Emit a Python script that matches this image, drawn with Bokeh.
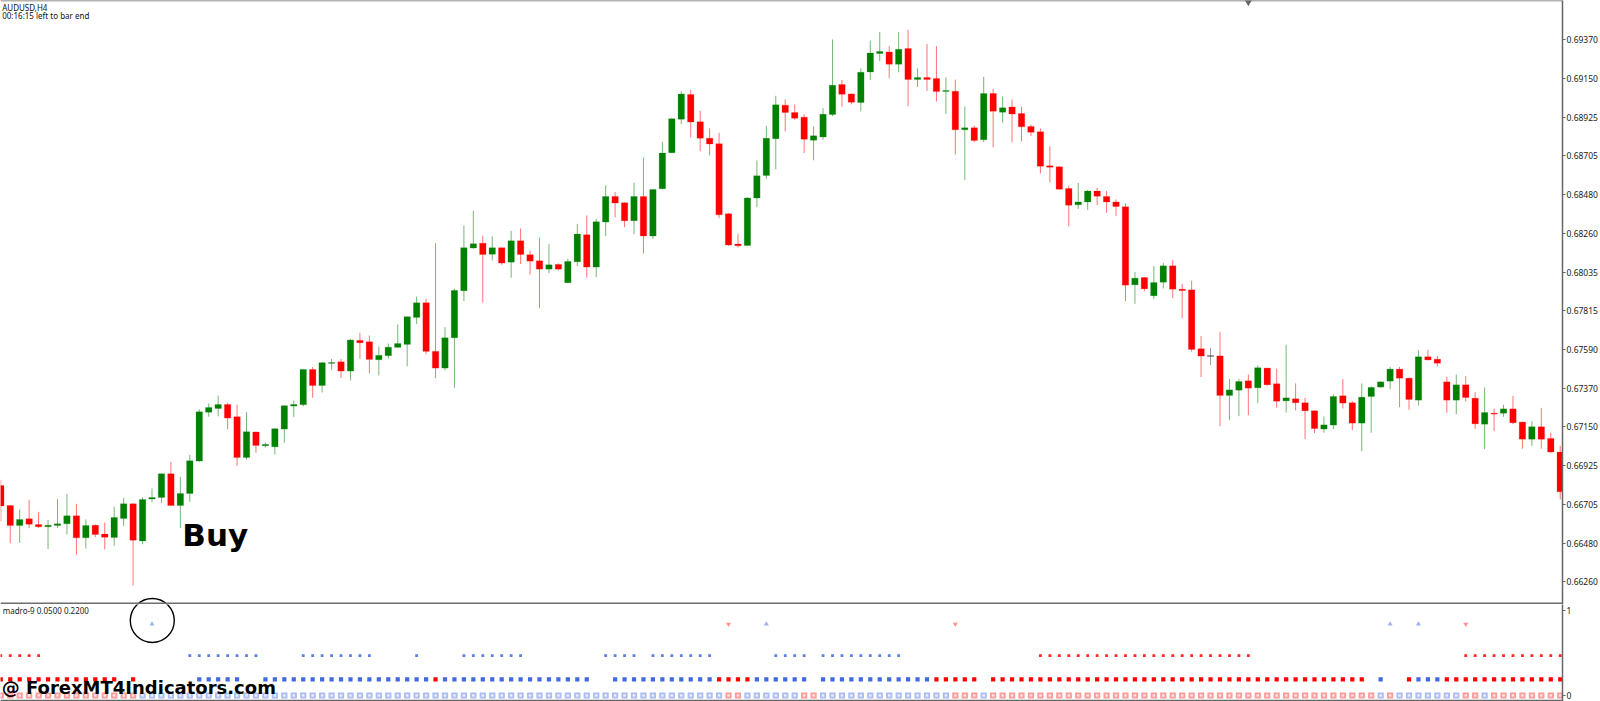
from bokeh.embed import file_html
from bokeh.layouts import column
from bokeh.models import ColumnDataSource, FixedTicker, Label, NumeralTickFormatter, Range1d, Span
from bokeh.plotting import figure
from bokeh.resources import INLINE

# Prices, in points (1 point = 0.00001)
POINT = 0.00001

opens = [
    66812, 66697, 66582, 66621, 66588, 66575, 66582, 66592, 66638, 66512,
    66584, 66533, 66514, 66623, 66707, 66494, 66734, 66743, 66879, 66697,
    66766, 66952, 67232, 67254, 67277, 67207, 66973, 67119, 67040, 67034,
    67136, 67268, 67276, 67478, 67386, 67513, 67522, 67469, 67645, 67637,
    67534, 67557, 67605, 67622, 67777, 67861, 67582, 67486, 67660, 67930,
    68175, 68203, 68140, 68177, 68094, 68217, 68137, 68102, 68054, 68081,
    67976, 68096, 68251, 68066, 68324, 68471, 68435, 68332, 68471, 68244,
    68515, 68722, 68915, 69057, 68900, 68806, 68774, 68372, 68198, 68190,
    68462, 68592, 68802, 68995, 68953, 68926, 68794, 68813, 68942, 69114,
    69060, 69010, 69186, 69292, 69301, 69230, 69320, 69142, 69154, 69148,
    69074, 69075, 68854, 68865, 68796, 69062, 68955, 68984, 68947, 68873,
    68842, 68647, 68641, 68517, 68423, 68440, 68502, 68471, 68440, 68412,
    67964, 68006, 67901, 67979, 68073, 67939, 67935, 67597, 67558, 67556,
    67329, 67359, 67413, 67373, 67486, 67396, 67298, 67310, 67287, 67241,
    67136, 67159, 67327, 67287, 67170, 67323, 67377, 67411, 67480, 67428,
    67302, 67551, 67537, 67407, 67302, 67390, 67313, 67164, 67227, 67227,
    67252, 67176, 67078, 67149, 67082, 67004,
]
highs = [
    66845, 66697, 66674, 66730, 66661, 66615, 66734, 66764, 66707, 66617,
    66588, 66600, 66690, 66741, 66709, 66745, 66795, 66881, 66948, 66862,
    66988, 67249, 67283, 67329, 67287, 67276, 67233, 67122, 67059, 67140,
    67272, 67300, 67480, 67492, 67520, 67539, 67539, 67654, 67689, 67673,
    67610, 67627, 67737, 67781, 67897, 67884, 68203, 67721, 67941, 68305,
    68389, 68246, 68242, 68179, 68274, 68288, 68161, 68234, 68198, 68087,
    68114, 68314, 68362, 68343, 68536, 68496, 68437, 68550, 68693, 68513,
    68785, 68919, 69074, 69083, 68963, 68862, 68837, 68376, 68257, 68467,
    68678, 68877, 69049, 69028, 68999, 68943, 68873, 68978, 69372, 69140,
    69062, 69206, 69366, 69416, 69334, 69416, 69427, 69206, 69347, 69334,
    69154, 69142, 68987, 68878, 69158, 69089, 69045, 69028, 68986, 68884,
    68861, 68760, 68645, 68534, 68549, 68509, 68521, 68503, 68454, 68431,
    68037, 68008, 68071, 68090, 68106, 67970, 67987, 67671, 67602, 67694,
    67424, 67424, 67449, 67501, 67488, 67482, 67620, 67398, 67315, 67243,
    67208, 67336, 67423, 67296, 67398, 67380, 67411, 67493, 67493, 67432,
    67589, 67591, 67556, 67436, 67449, 67440, 67348, 67375, 67254, 67275,
    67327, 67178, 67180, 67258, 67116, 67040,
]
lows = [
    66607, 66481, 66483, 66567, 66569, 66447, 66569, 66531, 66414, 66450,
    66515, 66445, 66466, 66579, 66238, 66475, 66716, 66711, 66695, 66569,
    66718, 66948, 67207, 67209, 67134, 66925, 66960, 67000, 67029, 66990,
    67057, 67205, 67266, 67316, 67346, 67476, 67429, 67415, 67539, 67455,
    67444, 67541, 67603, 67496, 67739, 67565, 67429, 67473, 67373, 67871,
    68171, 67863, 68104, 68079, 68005, 68083, 68022, 67829, 68031, 68047,
    67974, 68071, 68005, 68008, 68244, 68351, 68295, 68255, 68144, 68228,
    68513, 68720, 68886, 68810, 68731, 68708, 68347, 68188, 68179, 68188,
    68410, 68571, 68626, 68846, 68911, 68720, 68679, 68796, 68932, 68987,
    68999, 68959, 69139, 69248, 69150, 69184, 68989, 69100, 69077, 69016,
    68945, 68712, 68565, 68783, 68783, 68754, 68894, 68783, 68788, 68819,
    68603, 68551, 68511, 68299, 68400, 68394, 68421, 68377, 68358, 67870,
    67855, 67928, 67882, 67943, 67887, 67772, 67580, 67434, 67503, 67153,
    67187, 67210, 67216, 67285, 67386, 67258, 67231, 67243, 67078, 67113,
    67115, 67136, 67254, 67130, 67009, 67115, 67373, 67365, 67262, 67247,
    67271, 67530, 67495, 67229, 67220, 67294, 67137, 67021, 67124, 67206,
    67164, 67023, 67040, 67023, 66998, 66732,
]
closes = [
    66695, 66582, 66617, 66590, 66575, 66584, 66592, 66638, 66512, 66582,
    66531, 66515, 66628, 66707, 66498, 66732, 66743, 66879, 66697, 66766,
    66954, 67235, 67260, 67277, 67199, 66973, 67121, 67042, 67048, 67138,
    67270, 67277, 67478, 67386, 67517, 67518, 67469, 67647, 67631, 67536,
    67559, 67606, 67627, 67781, 67861, 67582, 67486, 67660, 67932, 68177,
    68200, 68138, 68177, 68089, 68217, 68138, 68100, 68054, 68079, 68054,
    68098, 68255, 68066, 68326, 68471, 68433, 68332, 68471, 68244, 68511,
    68720, 68917, 69059, 68898, 68806, 68772, 68366, 68192, 68188, 68462,
    68590, 68806, 68997, 68953, 68920, 68800, 68819, 68943, 69110, 69058,
    69012, 69184, 69294, 69303, 69230, 69316, 69142, 69154, 69142, 69074,
    69079, 68854, 68865, 68792, 69062, 68961, 68980, 68945, 68871, 68840,
    68645, 68639, 68513, 68421, 68440, 68502, 68473, 68440, 68414, 67962,
    68002, 67941, 67977, 68073, 67939, 67931, 67593, 67555, 67553, 67329,
    67361, 67409, 67371, 67488, 67390, 67296, 67315, 67287, 67241, 67139,
    67160, 67323, 67285, 67170, 67319, 67375, 67407, 67480, 67428, 67306,
    67551, 67533, 67514, 67302, 67390, 67317, 67166, 67231, 67222, 67252,
    67172, 67078, 67149, 67078, 67004, 66776,
]
doji_bars = [128]

price_ticks = [0.69370, 0.69150, 0.68925, 0.68705, 0.68480, 0.68260, 0.68035, 0.67815,
               0.67590, 0.67370, 0.67150, 0.66925, 0.66705, 0.66480, 0.66260]
indicator_ticks = [0, 1]

# madro-9 indicator: which bars carry a mark in each of its rows
def bars(*spans):
    out = []
    for a, b in spans:
        out.extend(range(a, b + 1))
    return out

arrows_up = [16, 81, 147, 150]
arrows_down = [77, 101, 155]
small_red = bars((0, 4), (110, 132), (155, 165))
small_blue = bars((20, 27), (32, 39), (44, 44), (49, 55), (64, 67), (69, 75), (82, 85), (87, 95))
mid_red = bars((0, 12), (14, 14), (46, 46), (76, 79), (99, 103), (105, 144), (149, 149), (153, 165))
mid_blue = bars((21, 25), (28, 45), (47, 62), (65, 75), (80, 85), (87, 98), (146, 146), (150, 152))
box_red = bars((0, 14), (77, 78), (85, 86), (101, 103), (105, 145), (147, 147), (155, 156), (158, 165))
box_blue = bars((15, 76), (79, 84), (87, 100), (104, 104), (146, 146), (148, 154), (157, 157))

RED = "#ff0000"
GREEN = "#008000"
BLUE = "#4169e1"
FONT = "Noto Sans"


def style_axis(p, ticks):
    # Right hand axis in the MT4 manner
    axis = p.yaxis[0]
    axis.ticker = FixedTicker(ticks=ticks)
    axis.major_tick_in = 0
    axis.major_tick_out = 3
    axis.minor_tick_line_color = None
    axis.axis_line_color = "#666666"
    axis.axis_line_width = 1.5
    axis.major_tick_line_color = "#666666"
    axis.major_label_standoff = 1
    axis.major_label_text_font = FONT
    axis.major_label_text_font_size = "8.5px"
    axis.major_label_text_color = "#222222"
    p.grid.visible = False
    p.outline_line_color = None


def make_figure(height, x_range, y_range):
    return figure(width=1600, height=height, x_range=x_range, y_range=y_range,
                  x_axis_location=None, y_axis_location="right", toolbar_location=None,
                  output_backend="svg", min_border_left=0, min_border_right=36,
                  min_border_top=0, min_border_bottom=0, background_fill_color="white")


def add_candles(p):
    colors = []
    for i, (o, c) in enumerate(zip(opens, closes)):
        if i in doji_bars:
            colors.append("#444444")
        else:
            colors.append(GREEN if c >= o else RED)
    source = ColumnDataSource(dict(
        x=list(range(len(opens))),
        o=[v * POINT for v in opens],
        h=[v * POINT for v in highs],
        l=[v * POINT for v in lows],
        c=[v * POINT for v in closes],
        color=colors,
    ))
    p.segment(x0="x", y0="h", x1="x", y1="l", source=source, color="color",
              line_width=1, line_alpha=0.55)
    p.vbar(x="x", width=0.68, top="o", bottom="c", source=source, fill_color="color",
           line_color="color", line_width=0.6, line_alpha=0.35)


def add_row(p, xs, level, color, size, marker="square", alpha=1.0):
    p.scatter(x=xs, y=[level] * len(xs), marker=marker, size=size, color=color,
              line_width=0, fill_alpha=alpha)


def add_boxes(p, xs, level, color, inner):
    # Each bottom mark is a pale box with a paler centre
    p.scatter(x=xs, y=[level] * len(xs), marker="square", size=6.2, fill_color=color, line_width=0)
    p.scatter(x=xs, y=[level] * len(xs), marker="square", size=2.5, fill_color=inner, line_width=0)


x_range = Range1d(-0.03, 165.24)

# Price window
top = make_figure(604, x_range, Range1d(0.66129, 0.69596))
top.yaxis[0].formatter = NumeralTickFormatter(format="0.00000")
style_axis(top, price_ticks)
add_candles(top)
top.add_layout(Span(location=0.69596, dimension="width", line_color="#666666", line_width=1.5))
top.add_layout(Span(location=0.66135, dimension="width", line_color="#6e6e6e", line_width=2))
top.scatter(x=[132], y=[0.69596], marker="inverted_triangle", size=10, color="#666666", line_width=0)
top.add_layout(Label(x=0.15, y=0.69555, text="AUDUSD,H4", text_font=FONT, text_font_size="8px",
                     text_color="#111111", text_baseline="middle"))
top.add_layout(Label(x=0.15, y=0.69512, text="00:16:15 left to bar end", text_font=FONT,
                     text_font_size="8px", text_color="#111111", text_baseline="middle"))
top.add_layout(Label(x=19.2, y=0.66526, text="Buy", text_font="DejaVu Sans", text_font_style="bold",
                     text_font_size="31px", text_color="black", text_baseline="alphabetic"))
top.scatter(x=[16.03], y=[0.66037], marker="circle", size=44, fill_color=None,
            line_color="black", line_width=1.4)

# Indicator window
bottom = make_figure(97, x_range, Range1d(-0.0706, 1.0706))
bottom.yaxis[0].formatter = NumeralTickFormatter(format="0")
style_axis(bottom, indicator_ticks)
bottom.add_layout(Span(location=-0.059, dimension="width", line_color="#666666", line_width=1.5))
add_row(bottom, arrows_up, 0.84, "#9db2f5", 5, marker="triangle")
add_row(bottom, arrows_down, 0.84, "#ff9090", 5, marker="inverted_triangle")
add_row(bottom, small_red, 0.47, RED, 2.8, alpha=0.85)
add_row(bottom, small_blue, 0.47, BLUE, 2.8, alpha=0.85)
add_row(bottom, mid_red, 0.19, RED, 4.2)
add_row(bottom, mid_blue, 0.19, BLUE, 4.2)
add_boxes(bottom, box_red, 0.0, "#ff9a9a", "#ffe6e6")
add_boxes(bottom, box_blue, 0.0, "#aabcf3", "#eef1fd")
bottom.add_layout(Label(x=0.2, y=1.0, text="madro-9 0.0500 0.2200", text_font=FONT,
                        text_font_size="8px", text_color="#222222", text_baseline="middle"))
bottom.add_layout(Label(x=0.1, y=0.09, text="@ ForexMT4Indicators.com", text_font="DejaVu Sans",
                        text_font_style="bold", text_font_size="18px", text_color="black",
                        text_baseline="middle"))
bottom.scatter(x=[16.03], y=[0.882], marker="circle", size=44, fill_color=None,
               line_color="black", line_width=1.4)

page = column(top, bottom, spacing=0)

open("out.html", "w").write(file_html(page, INLINE))
